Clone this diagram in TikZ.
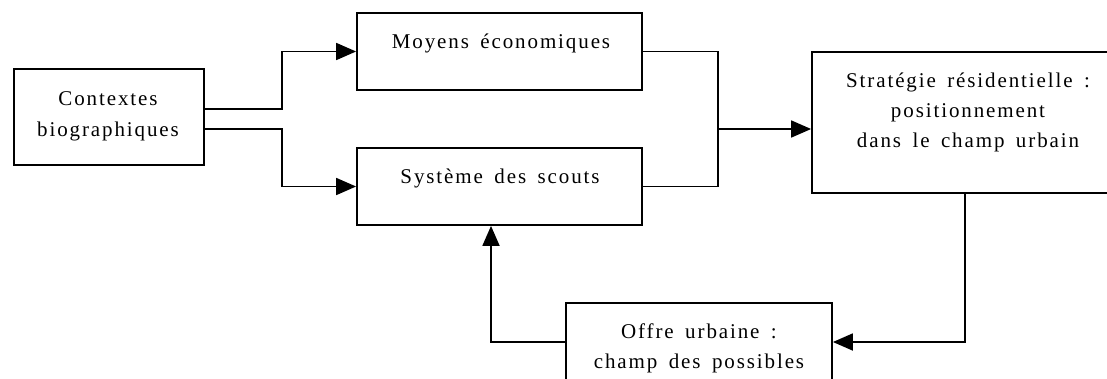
\documentclass[tikz,border=0pt]{standalone}
\usepackage{fontspec}
\setmainfont{Liberation Serif}[LetterSpace=9,WordSpace=1.6]
\usetikzlibrary{arrows.meta}
\tikzset{
  box/.style={draw, line width=1.8pt, rectangle, inner sep=0pt},
  txt/.style={align=center, inner sep=0pt, font=\fontsize{21}{30}\selectfont},
  conn/.style={line width=1.8pt},
  arr/.style={conn, -{Triangle[length=20pt,width=17pt]}}
}
\begin{document}
\begin{tikzpicture}[x=1pt,y=-1pt]
\useasboundingbox (0,0) rectangle (1107,378);
\clip (0,0) rectangle (1107,378);
% boxes
\node[box, minimum width=190pt, minimum height=96pt] (ctx) at (109,117) {};
\node[box, minimum width=285pt, minimum height=77pt] (moy) at (499.5,51.5) {};
\node[box, minimum width=285pt, minimum height=77pt] (sys) at (499.5,186.5) {};
\node[box, minimum width=312pt, minimum height=141pt] (strat) at (968,122.5) {};
\node[box, minimum width=266pt, minimum height=92pt] (off) at (699,349) {};
% texts
\node[txt, font=\fontsize{21}{31}\selectfont] (ctxt) at (108,116.5) {Contextes\\biographiques};
\node[txt] (moyt) at (501,43) {Moyens économiques};
\node[txt] (syst) at (500,178) {Système des scouts};
\node[txt] (stratt) at (968,112) {Stratégie résidentielle :\\positionnement\\dans le champ urbain};
\node[txt] (offt) at (699,348) {Offre urbaine :\\champ des possibles};
% junction points
\coordinate (c1) at (282,109);
\coordinate (c2) at (282,129);
\coordinate (m) at (718,129);
\coordinate (s) at (965,342);
\coordinate (o) at (491,342);
% connectors
\draw[arr] (ctx.east |- c1) -- (c1) |- (moy.west);
\draw[arr] (ctx.east |- c2) -- (c2) |- (sys.west);
\draw[conn] (moy.east) -| (m);
\draw[conn] (sys.east) -| (m);
\draw[arr] (m) -- (strat.west |- m);
\draw[arr] (strat.south -| s) -- (s) -- (off.east |- s);
\draw[arr] (off.west |- o) -- (o) -- (sys.south -| o);
\end{tikzpicture}
\end{document}
